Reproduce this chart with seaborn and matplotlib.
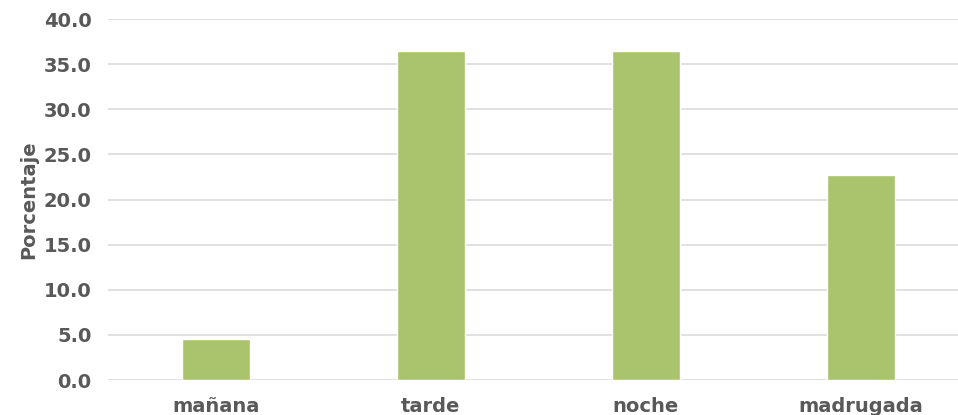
import matplotlib
matplotlib.use("Agg")
import matplotlib.pyplot as plt
import seaborn as sns
import pandas as pd

categories = ["mañana", "tarde", "noche", "madrugada"]
values = [4.5, 36.4, 36.4, 22.7]
yticks = [0, 5, 10, 15, 20, 25, 30, 35, 40]

sns.set_theme(style="white")
plt.rcParams['font.family'] = ['DejaVu Sans']

df = pd.DataFrame({"franja": categories, "pct": values})

W, H = 958, 415
fig = plt.figure(figsize=(W / 100, H / 100), dpi=100)
ax = fig.add_axes([108 / W, (H - 380) / H, (958 - 108) / W, (380 - 19) / H])

sns.barplot(data=df, x="franja", y="pct", color="#A9C46C", saturation=1,
            width=0.316, ax=ax, zorder=3)

ax.set_ylim(0, 40)
ax.set_xlim(-0.5, 3.45)
ax.set_yticks(yticks)
ax.set_yticklabels([f"{v:.1f}" for v in yticks])
ax.yaxis.grid(True, color="#DCDCDC", linewidth=1.2, zorder=0)
ax.set_axisbelow(True)
for s in ax.spines.values():
    s.set_visible(False)
ax.tick_params(axis="both", length=0)
ax.tick_params(axis="y", pad=12)
ax.tick_params(axis="x", pad=12)
for lbl in ax.get_yticklabels() + ax.get_xticklabels():
    lbl.set_fontsize(14)
    lbl.set_fontweight("bold")
    lbl.set_color("#595959")
ax.set_xlabel("")
ax.set_ylabel("Porcentaje", fontsize=14, fontweight="bold", color="#595959", labelpad=4)

fig.savefig("out.png", dpi=100)
